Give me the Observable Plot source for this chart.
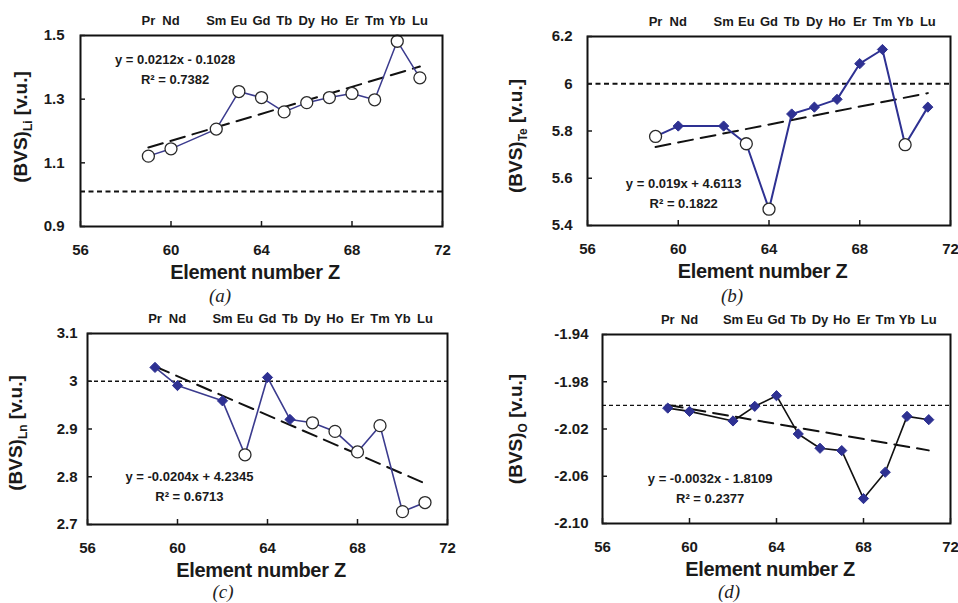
<!DOCTYPE html>
<html><head><meta charset="utf-8">
<script src="https://cdn.jsdelivr.net/npm/d3@7"></script>
<script src="https://cdn.jsdelivr.net/npm/@observablehq/plot@0.6"></script>
<style>
body{margin:0;background:#fff;}
#fig{position:relative;width:958px;height:603px;overflow:hidden;font-family:"Liberation Sans",Arial,sans-serif;background:#fff;}
.panel{position:absolute;z-index:1;}
.cap{position:absolute;z-index:5;font-family:"Liberation Serif","DejaVu Serif",serif;font-style:italic;font-size:19px;color:#222;transform:translate(-50%,-50%);}
</style></head><body><div id="fig"></div>
<script>
// ---- data ----
const Z = [59, 60, 62, 63, 64, 65, 66, 67, 68, 69, 70, 71];
const elements = ["Pr", "Nd", "Sm", "Eu", "Gd", "Tb", "Dy", "Ho", "Er", "Tm", "Yb", "Lu"];
const xTicks = [56, 60, 64, 68, 72];

const bvsLi = [1.121, 1.144, 1.206, 1.324, 1.305, 1.260, 1.289, 1.305, 1.318, 1.298, 1.482, 1.367];
const openLi = [true, true, true, true, true, true, true, true, true, true, true, true];
const bvsTe = [5.777, 5.821, 5.821, 5.746, 5.469, 5.872, 5.901, 5.934, 6.085, 6.145, 5.742, 5.901];
const openTe = [true, false, false, true, true, false, false, false, false, false, true, false];
const bvsLn = [3.029, 2.991, 2.959, 2.846, 3.008, 2.920, 2.913, 2.895, 2.852, 2.907, 2.727, 2.746];
const openLn = [false, false, false, true, false, false, true, true, true, true, true, true];
const bvsO = [-2.0023, -2.0051, -2.0132, -2.0008, -1.9918, -2.0242, -2.0363, -2.0383, -2.0789, -2.0566, -2.0093, -2.0121];
const openO = [false, false, false, false, false, false, false, false, false, false, false, false];

const yTicksLi = [0.9, 1.1, 1.3, 1.5];
const yTicksTe = [5.4, 5.6, 5.8, 6.0, 6.2];
const yTicksLn = [2.7, 2.8, 2.9, 3.0, 3.1];
const yTicksO = [-2.10, -2.06, -2.02, -1.98, -1.94];

const refValues = [1.01, 6.0, 3.0, -2.0];
const slopes = [0.0212, 0.019, -0.0204, -0.0032];
const intercepts = [-0.1028, 4.6113, 4.2345, -1.8109];
const r2Values = ["0.7382", "0.1822", "0.6713", "0.2377"];
const equations = ["y = 0.0212x - 0.1028", "y = 0.019x + 4.6113", "y = -0.0204x + 4.2345", "y = -0.0032x - 1.8109"];
const subscripts = ["Li", "Te", "Ln", "O"];
const captions = ["(a)", "(b)", "(c)", "(d)"];

// ---- drawing ----
const fig = document.getElementById("fig");
const BLUE = "#2e3192";

function panel(cfg) {
  const rows = Z.map((z, i) => ({z, v: cfg.values[i], open: cfg.open[i], el: elements[i]}));
  const trend = [Z[0], Z[Z.length - 1]].map(z => ({z, v: cfg.slope * z + cfg.intercept}));
  const eqRows = [{x: cfg.eqX, y: cfg.eqY[0], t: cfg.eq}, {x: cfg.eqX, y: cfg.eqY[1], t: "R\u00B2 = " + cfg.r2}];
  const svg = Plot.plot({
    width: cfg.width, height: cfg.height,
    marginLeft: cfg.mL, marginRight: cfg.mR, marginTop: cfg.mT, marginBottom: cfg.mB,
    style: {fontFamily: "Liberation Sans, Arial, sans-serif", fontWeight: "bold", fontSize: "15px", color: "#1a1a1a", background: "white"},
    x: {domain: [56, 72]},
    y: {domain: [cfg.yTicks[0], cfg.yTicks[cfg.yTicks.length - 1]]},
    marks: [
      Plot.ruleY([cfg.ref], {stroke: "#111", strokeWidth: cfg.refW, strokeDasharray: cfg.refDash}),
      Plot.line(trend, {x: "z", y: "v", stroke: "#111", strokeWidth: 2, strokeDasharray: "15,8"}),
      Plot.line(rows, {x: "z", y: "v", stroke: cfg.lineColor, strokeWidth: cfg.lineW}),
      Plot.dot(rows.filter(d => d.open), {x: "z", y: "v", r: 6, fill: "white", stroke: "#2a2a2a", strokeWidth: 1.3}),
      Plot.dot(rows.filter(d => !d.open), {x: "z", y: "v", symbol: "diamond2", r: 4.6, fill: BLUE, stroke: BLUE, strokeWidth: 1}),
      Plot.text(eqRows, {x: "x", y: "y", text: "t", fontSize: 13, fontWeight: "bold", textAnchor: "middle", fill: "#1a1a1a"}),
      Plot.frame({stroke: "#111", strokeWidth: 2}),
      Plot.axisY({ticks: cfg.yTicks, tickFormat: cfg.yFmt, tickSize: -5, tickPadding: 5 + cfg.yGap, strokeWidth: 1.5, label: null, fontSize: 15}),
      Plot.axisX({anchor: "bottom", ticks: xTicks, tickFormat: d => String(d), tickSize: -5, tickPadding: 23, strokeWidth: 1.5, label: null, fontSize: 15}),
      Plot.axisX({anchor: "top", ticks: Z, tickFormat: d => elements[Z.indexOf(d)], tickSize: 0, tickPadding: 11, label: null, fontSize: 13})
    ]
  });
  const s = d3.select(svg);
  // y-axis title with subscript
  const yl = s.append("text")
    .attr("transform", `translate(${cfg.yLabelX},${cfg.yLabelY}) rotate(-90)`)
    .attr("text-anchor", "middle").attr("font-size", 19).attr("font-weight", "bold").attr("fill", "#1a1a1a");
  yl.append("tspan").text("(BVS)");
  yl.append("tspan").attr("font-size", 12).attr("dy", 5).text(cfg.sub);
  yl.append("tspan").attr("dy", -5).text(" [v.u.]");
  // x-axis title
  const fx = (cfg.mL + cfg.width - cfg.mR) / 2 - 6;
  s.append("text").attr("x", fx).attr("y", cfg.height - cfg.mB + 53)
    .attr("text-anchor", "middle").attr("font-size", 20).attr("font-weight", "bold").attr("fill", "#1a1a1a")
    .attr("letter-spacing", "-0.3px")
    .text("Element number Z");
  const wrap = document.createElement("div");
  wrap.className = "panel";
  wrap.style.left = cfg.left + "px"; wrap.style.top = cfg.top + "px";
  wrap.appendChild(svg);
  fig.appendChild(wrap);
  const cap = document.createElement("div");
  cap.className = "cap";
  cap.style.left = cfg.capX + "px"; cap.style.top = cfg.capY + "px";
  cap.textContent = cfg.caption;
  fig.appendChild(cap);
}

const f1 = d => d.toFixed(1);
const fTrim = d => (Math.abs(d - Math.round(d)) < 1e-9 ? String(Math.round(d)) : d.toFixed(1));
const f2 = d => d.toFixed(2);

panel({left: 0, top: 0, width: 479, height: 290, mL: 80, mR: 37, mT: 35, mB: 64,
  values: bvsLi, open: openLi, yTicks: yTicksLi, yFmt: f1, yGap: 16, ref: refValues[0], refW: 2.2, refDash: "5,3.5",
  slope: slopes[0], intercept: intercepts[0], eq: equations[0], r2: r2Values[0], eqX: 60.18, eqY: [1.425, 1.362],
  lineColor: "#3b3b8e", lineW: 1.5, sub: subscripts[0], yLabelX: 27, yLabelY: 127, caption: captions[0], capX: 220, capY: 296});

panel({left: 479, top: 0, width: 479, height: 290, mL: 108, mR: 8, mT: 36, mB: 65,
  values: bvsTe, open: openTe, yTicks: yTicksTe, yFmt: fTrim, yGap: 15, ref: refValues[1], refW: 2.2, refDash: "5,3.5",
  slope: slopes[1], intercept: intercepts[1], eq: equations[1], r2: r2Values[1], eqX: 60.24, eqY: [5.575, 5.49],
  lineColor: BLUE, lineW: 2, sub: subscripts[1], yLabelX: 43, yLabelY: 136, caption: captions[1], capX: 732, capY: 296});

panel({left: 0, top: 300, width: 479, height: 290, mL: 87, mR: 32, mT: 33, mB: 66,
  values: bvsLn, open: openLn, yTicks: yTicksLn, yFmt: fTrim, yGap: 10, ref: refValues[2], refW: 1.3, refDash: "4,3",
  slope: slopes[2], intercept: intercepts[2], eq: equations[2], r2: r2Values[2], eqX: 60.53, eqY: [2.799, 2.757],
  lineColor: "#3b3b8e", lineW: 1.6, sub: subscripts[2], yLabelX: 22, yLabelY: 133, caption: captions[2], capX: 223, capY: 592});

panel({left: 479, top: 300, width: 479, height: 290, mL: 123, mR: 8, mT: 34, mB: 67,
  values: bvsO, open: openO, yTicks: yTicksO, yFmt: f2, yGap: 14, ref: refValues[3], refW: 1.3, refDash: "4,3",
  slope: slopes[3], intercept: intercepts[3], eq: equations[3], r2: r2Values[3], eqX: 60.95, eqY: [-2.062, -2.079],
  lineColor: "#111", lineW: 1.6, sub: subscripts[3], yLabelX: 43, yLabelY: 129, caption: captions[3], capX: 729, capY: 592});
</script>
</body></html>
